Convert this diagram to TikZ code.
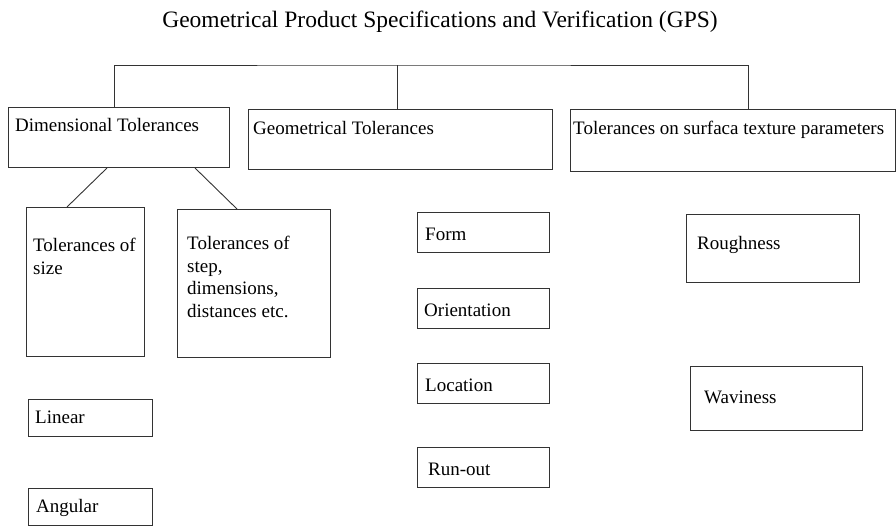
\documentclass[tikz,border=0pt]{standalone}
\usepackage{fontspec}
\setmainfont{Liberation Serif}
\usetikzlibrary{calc,positioning}
\tikzset{
    box/.style = {draw=black!80, line width=1pt, rectangle, anchor=north west, inner sep=0pt},
    lbl/.style = {anchor=base west, inner sep=0pt, align=left,
        font=\fontsize{19}{22.5}\selectfont},
    link/.style = {draw=black!80, line width=0.9pt}
}
\begin{document}
\begin{tikzpicture}[x=1pt, y=-1pt]
        \useasboundingbox (0,0) rectangle (896,528);
        \node [anchor=base, inner sep=0pt, font=\fontsize{23.5}{28}\selectfont, name=title] at (440,27) {Geometrical Product Specifications and Verification (GPS)};
        % first level
        \node [box, minimum width=221pt, minimum height=60pt, name=dim] at (8,107) {};
        \node [lbl] at ($(dim.north west)+(7,24)$) {Dimensional Tolerances};
        \node [box, minimum width=304pt, minimum height=60pt, name=geo] at (248,109) {};
        \node [lbl] at ($(geo.north west)+(5,25)$) {Geometrical Tolerances};
        \node [box, minimum width=325pt, minimum height=62pt, name=surf] at (570,109) {};
        \node [lbl] at ($(surf.north west)+(3,25)$) {Tolerances on surfaca texture parameters};
        \coordinate (top) at (397,65);
        \draw [link] (dim.north west) ++(106,0) |- (top) -| ($(surf.north west)+(178,0)$);
        \draw [link] (top) -- (top |- geo.north);
        % dimensional tolerances (base = last line)
        \node [box, minimum width=118pt, minimum height=149pt, name=size] at (26,207) {};
        \node [lbl] at ($(size.north west)+(7,67)$) {Tolerances of\\size};
        \node [box, minimum width=153pt, minimum height=148pt, name=step] at (177,209) {};
        \node [lbl] at ($(step.north west)+(10,108)$) {Tolerances of\\step,\\dimensions,\\distances etc.};
        \draw [link] ($(dim.south west)+(99,0)$) -- ($(size.north west)+(41,0)$);
        \draw [link] ($(dim.south west)+(187,0)$) -- ($(step.north west)+(60,0)$);
        \foreach \n/\y/\dx/\t in {linear/399/7/Linear, angular/488/8/Angular}{
            \node [box, minimum width=124pt, minimum height=37pt, name=\n] at (28,\y) {};
            \node [lbl] at ($(\n.north west)+(\dx,24)$) {\t};
        }
        % geometrical tolerances
        \foreach \n/\y/\dx/\t in {form/212/8/Form, orient/288/7/Orientation, loc/363/8/Location, runout/447/11/Run-out}{
            \node [box, minimum width=132pt, minimum height=40pt, name=\n] at (417,\y) {};
            \node [lbl] at ($(\n.north west)+(\dx,28)$) {\t};
        }
        % surface texture
        \node [box, minimum width=173pt, minimum height=68pt, name=rough] at (686,214) {};
        \node [lbl] at ($(rough.north west)+(11,35)$) {Roughness};
        \node [box, minimum width=172pt, minimum height=64pt, name=wavy] at (690,366) {};
        \node [lbl] at ($(wavy.north west)+(14,37)$) {Waviness};
\end{tikzpicture}
\end{document}
